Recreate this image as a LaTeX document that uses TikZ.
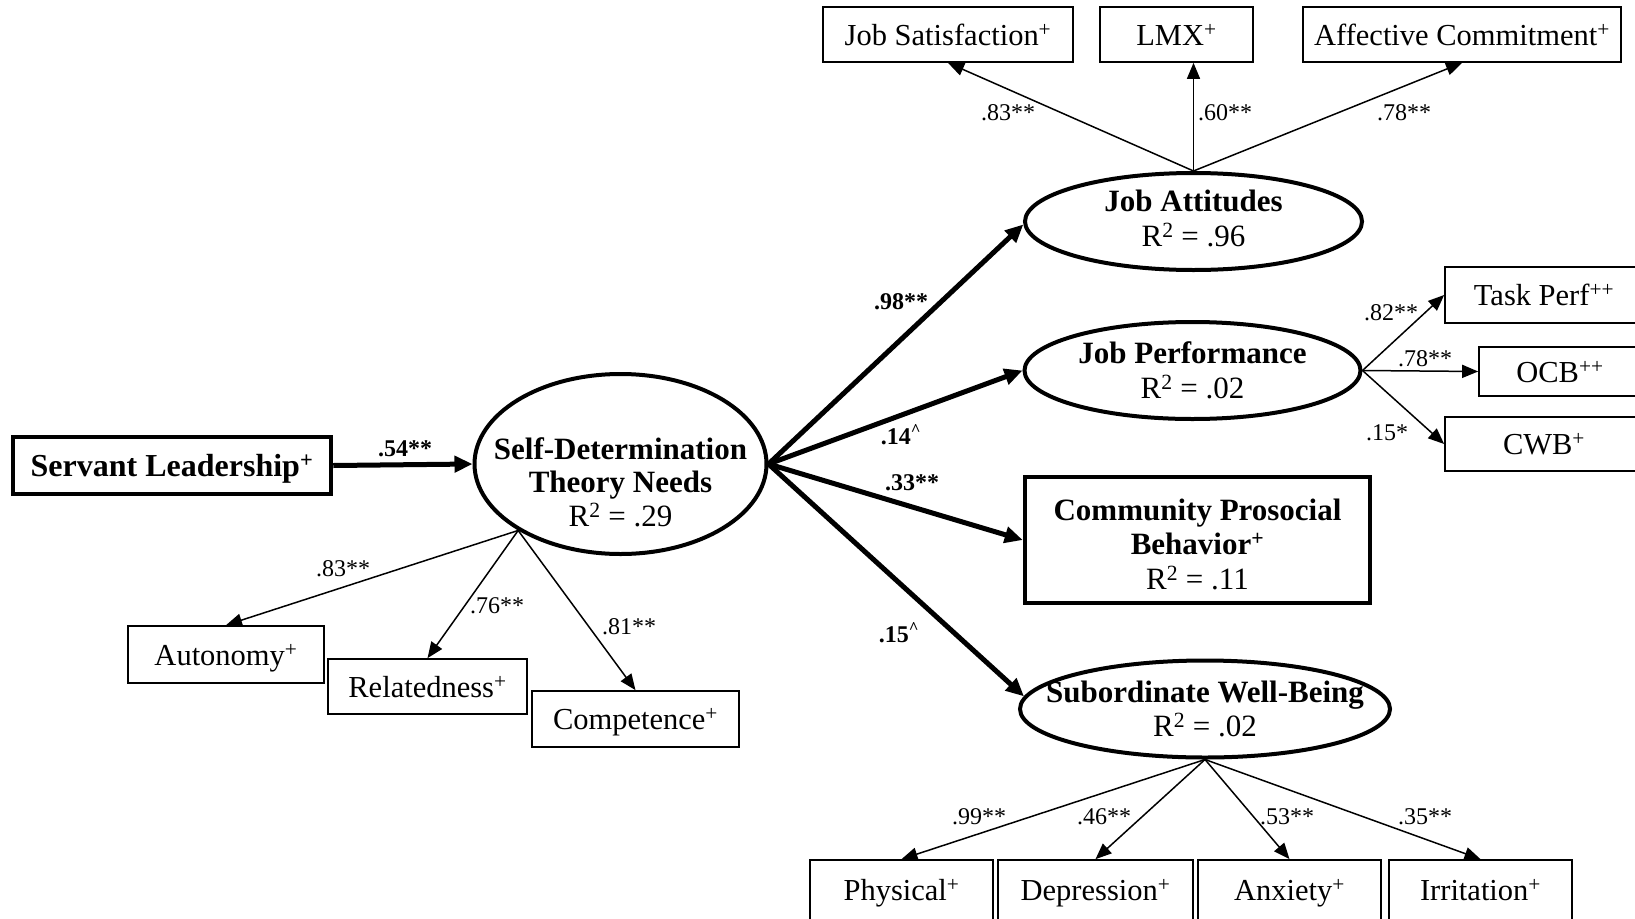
\documentclass[tikz,border=0pt]{standalone}
\usepackage{fontspec}
\setmainfont{Liberation Serif}
\usetikzlibrary{arrows.meta,shapes.geometric}
\begin{document}
\begin{tikzpicture}[x=1pt,y=-1pt,
  box/.style={draw, line width=1.7pt, inner sep=0pt, text depth=0pt, font=\fontsize{30.5}{35}\selectfont},
  tbox/.style={draw, line width=4.5pt, inner sep=0pt, align=center, font=\bfseries\fontsize{31}{34.5}\selectfont},
  lat/.style={ellipse, draw, line width=4pt, inner sep=0pt},
  ltext/.style={align=center, inner sep=0pt, font=\fontsize{31}{34.5}\selectfont},
  lbl/.style={inner sep=0pt, font=\fontsize{24}{28}\selectfont},
  blbl/.style={inner sep=0pt, font=\bfseries\fontsize{24}{28}\selectfont},
  thinarr/.style={-{Triangle[length=16pt,width=13pt]}, line width=1.5pt},
  thickarr/.style={-{Triangle[length=18pt,width=16pt]}, line width=5pt},
]
\useasboundingbox (0,0) rectangle (1635,918);
\clip (0,0) rectangle (1635,918);
\fill[white] (0,0) rectangle (1635,918);

% top indicator boxes
\node[box, minimum width=250pt, minimum height=55pt] (js) at (948,34.5) {Job Satisfaction\textsuperscript{+}};
\node[box, minimum width=153pt, minimum height=55pt] (lmx) at (1176.5,34.5) {LMX\textsuperscript{+}};
\node[box, minimum width=318pt, minimum height=55pt] (ac) at (1462,34.5) {Affective Commitment\textsuperscript{+}};

% latent variables
\node[lat, minimum width=337pt, minimum height=97pt] (ja) at (1193.5,221.5) {};
\node[ltext] (jat) at ([yshift=3pt]ja.center) {\textbf{Job Attitudes}\\R\textsuperscript{2} = .96};
\node[lat, minimum width=336pt, minimum height=97pt] (jp) at (1192.5,370.5) {};
\node[ltext] (jpt) at (jp) {\textbf{Job Performance}\\R\textsuperscript{2} = .02};
\node[lat, minimum width=370pt, minimum height=97pt] (swb) at (1205,709) {};
\node[ltext] (swbt) at (swb) {\textbf{Subordinate Well-Being}\\R\textsuperscript{2} = .02};
\node[lat, minimum width=292pt, minimum height=180pt] (sdt) at (620.5,464) {};
\node[ltext, font=\fontsize{31}{33.5}\selectfont] (sdtt) at ([yshift=-18pt]sdt.center) {\textbf{Self-Determination}\\\textbf{Theory Needs}\\R\textsuperscript{2} = .29};

% observed boxes
\node[tbox, minimum width=318pt, minimum height=57pt, text depth=0pt, font=\bfseries\fontsize{32}{36}\selectfont] (sl) at (172,465.5) {Servant Leadership\textsuperscript{+}};
\node[tbox, minimum width=345pt, minimum height=126pt] (cpb) at (1197.5,540) {};
\node[ltext] (cpbt) at ([yshift=-4pt]cpb.center) {\textbf{Community Prosocial}\\\textbf{Behavior\textsuperscript{+}}\\R\textsuperscript{2} = .11};

\node[box, minimum width=198pt, minimum height=56pt] (tp) at (1544,295) {Task Perf\textsuperscript{++}};
\node[box, minimum width=162pt, minimum height=49pt] (ocb) at (1560,371.5) {OCB\textsuperscript{++}};
\node[box, minimum width=198pt, minimum height=54pt] (cwb) at (1544,444) {CWB\textsuperscript{+}};

\node[box, minimum width=196pt, minimum height=57pt] (aut) at (226,654.5) {Autonomy\textsuperscript{+}};
\node[box, minimum width=199pt, minimum height=55pt] (rel) at (427.5,686.5) {Relatedness\textsuperscript{+}};
\node[box, minimum width=207pt, minimum height=56pt] (com) at (635.5,719) {Competence\textsuperscript{+}};

\node[box, minimum width=183pt, minimum height=60pt] (phy) at (901.5,890) {Physical\textsuperscript{+}};
\node[box, minimum width=195pt, minimum height=60pt] (dep) at (1095.5,890) {Depression\textsuperscript{+}};
\node[box, minimum width=183pt, minimum height=60pt] (anx) at (1289.5,890) {Anxiety\textsuperscript{+}};
\node[box, minimum width=183pt, minimum height=60pt] (irr) at (1480.5,890) {Irritation\textsuperscript{+}};

% structural paths
\draw[thickarr] (sl.east) -- (sdt.west);
\draw[thickarr] (sdt.east) -- (ja.181);
\draw[thickarr] (sdt.east) -- (jp.west);
\draw[thickarr] (sdt.east) -- (cpb.west);
\draw[thickarr] (sdt.east) -- (swb.176);

% measurement paths
\draw[thinarr] (ja.north) -- (js.south);
\draw[thinarr] (ja.north) -- (ja.north |- lmx.south);
\draw[thinarr] (ja.north) -- (ac.south);
\draw[thinarr] (jp.east) -- (tp.west);
\draw[thinarr] (jp.east) -- (ocb.west);
\draw[thinarr] (jp.east) -- (cwb.west);
\draw[thinarr] (sdt.213) -- (aut.north);
\draw[thinarr] (sdt.213) -- (rel.north);
\draw[thinarr] (sdt.213) -- (com.north);
\draw[thinarr] (swb.south) -- (phy.north);
\draw[thinarr] (swb.south) -- (dep.north);
\draw[thinarr] (swb.south) -- (anx.north);
\draw[thinarr] (swb.south) -- (irr.north);

% labels
\node[lbl] (l1) at (1008,113) {.83**};
\node[lbl] (l2) at (1225,113) {.60**};
\node[lbl] (l3) at (1404,113) {.78**};
\node[lbl] (l4) at (1391,313) {.82**};
\node[lbl] (l5) at (1425,359) {.78**};
\node[lbl] (l6) at (1387,433) {.15*};
\node[blbl] (l7) at (901,302) {.98**};
\node[blbl] (l8) at (901,435) {.14\textsuperscript{\textasciicircum}};
\node[blbl] (l9) at (912,483) {.33**};
\node[blbl] (l10) at (899,633) {.15\textsuperscript{\textasciicircum}};
\node[blbl] (l11) at (405,449) {.54**};
\node[lbl] (l12) at (343,569) {.83**};
\node[lbl] (l13) at (497,606) {.76**};
\node[lbl] (l14) at (629,627) {.81**};
\node[lbl] (l15) at (979,817) {.99**};
\node[lbl] (l16) at (1104,817) {.46**};
\node[lbl] (l17) at (1287,817) {.53**};
\node[lbl] (l18) at (1425,817) {.35**};
\end{tikzpicture}
\end{document}
